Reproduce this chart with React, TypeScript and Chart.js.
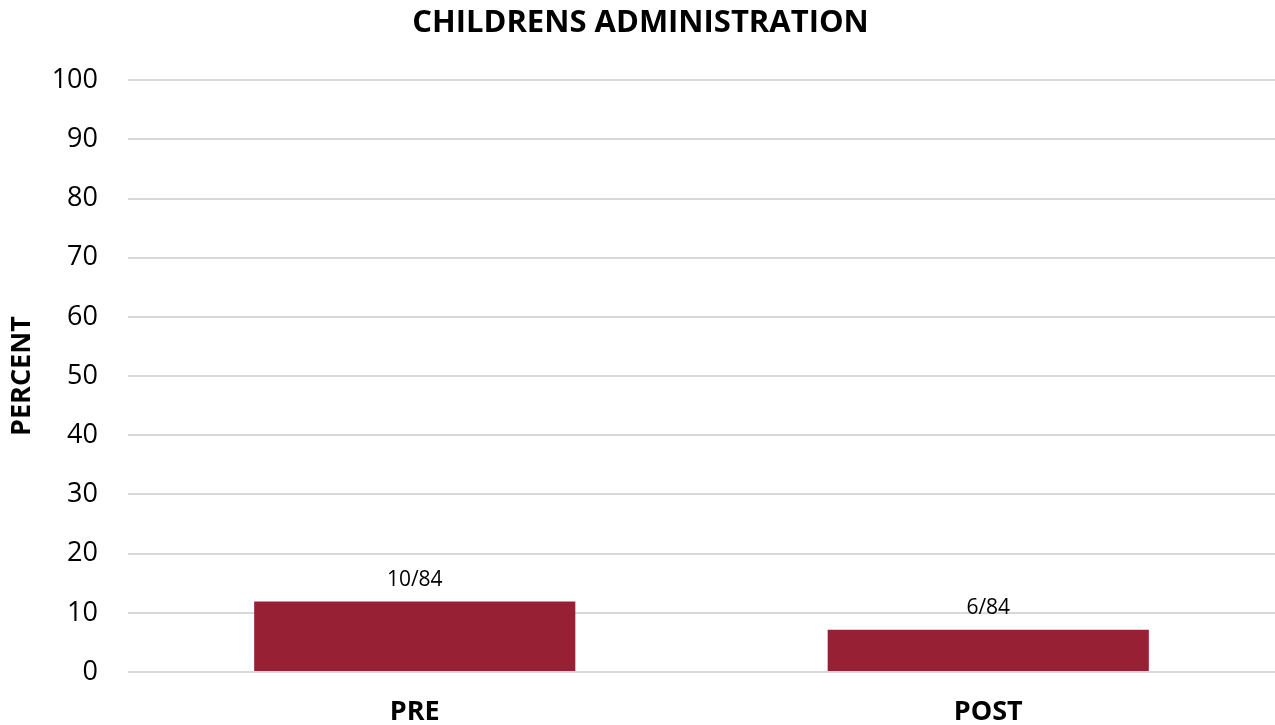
import React, { useEffect, useRef } from "react";
import { Chart, registerables } from "chart.js";

Chart.register(...registerables);

const categories = ["PRE", "POST"];
const percentValues = [11.9, 7.14];
const dataLabels = ["10/84", "6/84"];
const yTicks = [0, 10, 20, 30, 40, 50, 60, 70, 80, 90, 100];

const FONT = "'Open Sans', 'Liberation Sans', sans-serif";
const BAR_COLOR = "#982035";

const labelPlugin = {
  id: "barLabels",
  afterDatasetsDraw(chart: any) {
    const ctx = chart.ctx;
    const meta = chart.getDatasetMeta(0);
    ctx.save();
    ctx.font = `21px ${FONT}`;
    ctx.fillStyle = "#000";
    ctx.textAlign = "center";
    ctx.textBaseline = "bottom";
    meta.data.forEach((bar: any, i: number) => {
      ctx.fillText(dataLabels[i], bar.x, bar.y - 11);
    });
    ctx.restore();
  },
};

export default function App() {
  const ref = useRef<HTMLCanvasElement>(null);
  useEffect(() => {
    if (!ref.current) return;
    const chart = new Chart(ref.current, {
      type: "bar",
      data: {
        labels: categories,
        datasets: [
          {
            data: percentValues,
            backgroundColor: BAR_COLOR,
            borderWidth: 0,
            categoryPercentage: 1,
            barPercentage: 0.56,
          },
        ],
      },
      options: {
        animation: false,
        responsive: false,
        maintainAspectRatio: false,
        layout: { padding: { top: 5, left: 6, right: 0, bottom: 0 } },
        plugins: {
          legend: { display: false },
          tooltip: { enabled: false },
          title: {
            display: true,
            text: "CHILDRENS ADMINISTRATION",
            font: { family: FONT, size: 31, weight: "bold" },
            color: "#000",
            padding: { top: 0, bottom: 38 },
          },
        },
        scales: {
          x: {
            grid: { display: false, drawTicks: false },
            border: { display: false },
            ticks: {
              font: { family: FONT, size: 27, weight: "bold" },
              color: "#000",
              padding: 24,
            },
            afterFit: (axis: any) => {
              axis.height = 53;
            },
          },
          y: {
            min: 0,
            max: 100,
            afterBuildTicks: (axis: any) => {
              axis.ticks = yTicks.map((v) => ({ value: v }));
            },
            grid: { color: "#d9d9d9", lineWidth: 2, drawTicks: false },
            border: { display: false },
            ticks: {
              font: { family: FONT, size: 27 },
              color: "#000",
              padding: 30,
            },
            title: {
              display: true,
              text: "PERCENT",
              font: { family: FONT, size: 27, weight: "bold" },
              color: "#000",
              padding: { top: 0, bottom: 0 },
            },
            afterFit: (axis: any) => {
              axis.width = 122;
            },
          },
        },
      },
      plugins: [labelPlugin],
    });
    return () => chart.destroy();
  }, []);
  return (
    <div style={{ position: "absolute", left: 0, top: 0, width: 1275, height: 725, background: "#fff" }}>
      <canvas ref={ref} width={1275} height={725} style={{ display: "block" }} />
    </div>
  );
}
